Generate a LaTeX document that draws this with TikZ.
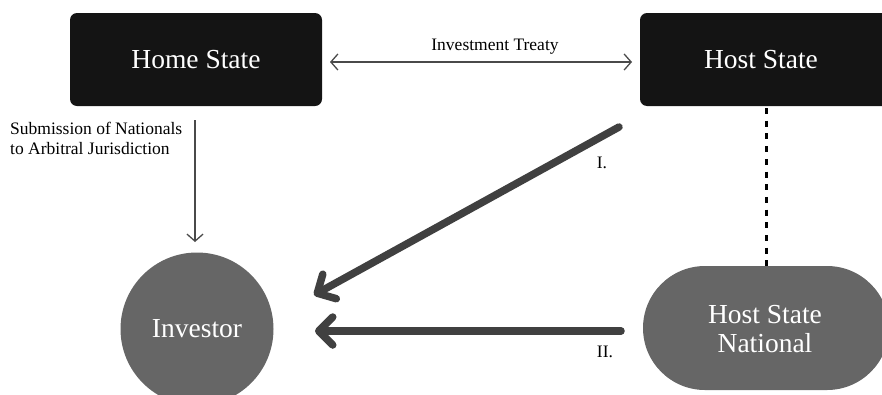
\documentclass[tikz,border=0pt]{standalone}
\usepackage{fontspec}
\setmainfont{Liberation Serif}
\usetikzlibrary{arrows.meta,shapes.misc}
\definecolor{boxblack}{HTML}{141414}
\definecolor{nodegray}{HTML}{666666}
\definecolor{arrowgray}{HTML}{404040}
\definecolor{thingray}{HTML}{4A4A4A}
\tikzset{
  bigfont/.style={font=\fontsize{27.5}{29}\selectfont},
  statebox/.style={draw=none, fill=boxblack, rounded corners=7pt, text=white, inner sep=0pt},
  graynode/.style={draw=none, fill=nodegray, text=white, inner sep=0pt, align=center},
  thinarrow/.style={draw=thingray, line width=1.3pt,
    -{Straight Barb[length=7pt,width=16pt,line width=1.3pt]}},
  bigarrow/.style={draw=arrowgray, line width=7.5pt, line cap=round,
    -{Straight Barb[length=14pt,width=28pt,line width=7.5pt,line cap=round,line join=round]}},
  lbl/.style={font=\fontsize{17.5}{20}\selectfont, text=black, inner sep=0pt},
  dashline/.style={draw=black, line width=3pt, dash pattern=on 6pt off 6.7pt}
}
\begin{document}
\begin{tikzpicture}[x=1pt,y=-1pt]
\useasboundingbox (0,0) rectangle (882,394);
\clip (0,0) rectangle (882,394);
% nodes
\node[statebox, bigfont, minimum width=252pt, minimum height=93pt] (home) at (196,59.5) {Home State};
\node[statebox, minimum width=256pt, minimum height=93pt] (hostbox) at (768,59.5) {};
\node[bigfont, text=white, inner sep=0pt] (host) at (761,59.5) {Host State};
\node[graynode, bigfont, circle, minimum size=153pt] (investor) at (197,329) {Investor};
\node[graynode, rounded rectangle, minimum width=246pt, minimum height=124pt] (hsnshape) at (766,328) {};
\node[bigfont, text=white, align=center, inner sep=0pt] (hsn) at (765,329) {Host State\\National};
% coordinates
\coordinate (treatyL) at (330,62);
\coordinate (treatyR) at (632,62);
\coordinate (subT) at (195,120);
\coordinate (subB) at (195,242);
\coordinate (oneS) at (619,127);
\coordinate (oneE) at (314,295);
\coordinate (twoS) at (621,331);
\coordinate (twoE) at (315,331);
\coordinate (dashT) at (766,108);
\coordinate (dashB) at (766,266);
% connectors
\draw[thinarrow, {Straight Barb[length=7pt,width=16pt,line width=1.3pt]}-{Straight Barb[length=7pt,width=16pt,line width=1.3pt]}] (treatyL) -- (treatyR);
\draw[thinarrow] (subT) -- (subB);
\draw[bigarrow] (oneS) -- (oneE);
\draw[bigarrow] (twoS) -- (twoE);
\draw[dashline] (dashT) -- (dashB);
% labels
\node[lbl] (treatylbl) at (495,47) {Investment Treaty};
\node[lbl, align=left, anchor=west] (sublbl) at (10,138) {Submission of Nationals\\to Arbitral Jurisdiction};
\node[lbl] (onelbl) at (602,163) {I.};
\node[lbl] (twolbl) at (605,352) {II.};
\end{tikzpicture}
\end{document}
